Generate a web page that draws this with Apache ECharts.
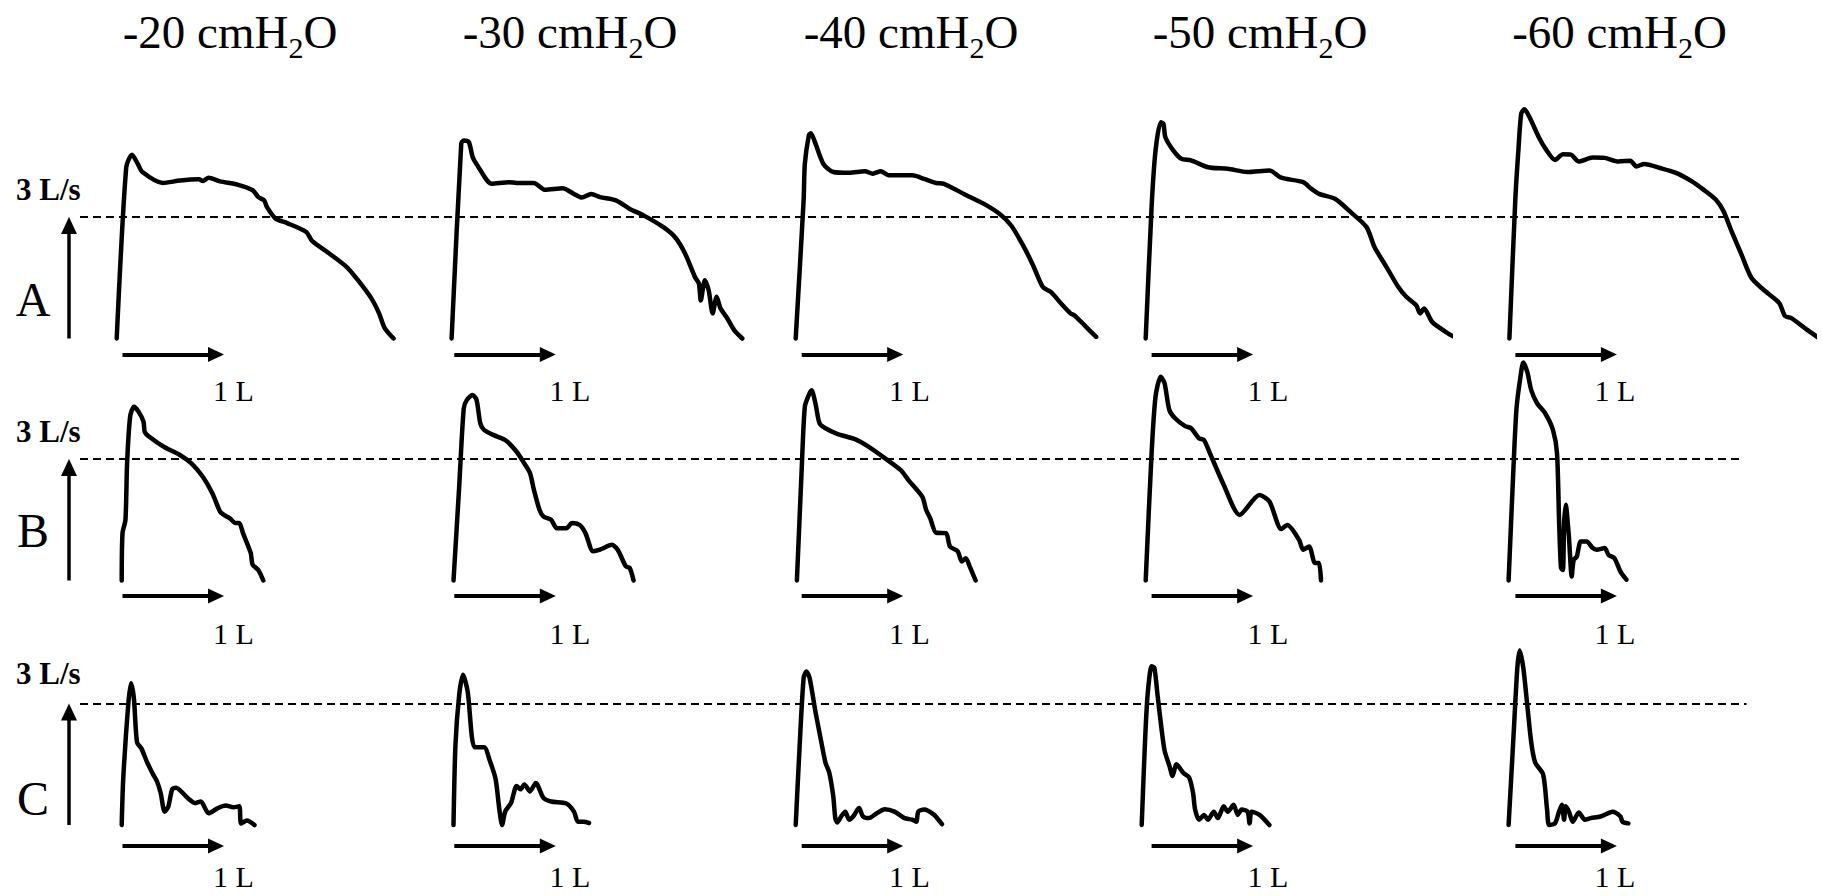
<!DOCTYPE html>
<html>
<head>
<meta charset="utf-8">
<script src="https://cdn.jsdelivr.net/npm/echarts@6/dist/echarts.min.js"></script>
<style>
html,body{margin:0;padding:0;background:#ffffff;}
#chart{width:1822px;height:896px;}
</style>
</head>
<body>
<div id="chart"></div>
<script>
// ---------- labels ----------
const pressures = ['-20', '-30', '-40', '-50', '-60'];
const rowNames = ['A', 'B', 'C'];
const flowScaleLabel = '3 L/s';
const volumeScaleLabel = '1 L';
const flowScaleValue = 3;   // L/s, dashed reference & vertical scale bar
const volumeScaleValue = 1; // L, horizontal scale bar

// ---------- data: [volume (L), flow (L/s)] ----------
const curveA20 = [[0,0],[0.094,4.23],[0.151,4.54],[0.208,4.31],[0.253,4.11],[0.453,3.84],[0.623,3.90],[0.811,3.93],[0.849,3.89],[0.906,3.97],[1.019,3.88],[1.189,3.80],[1.34,3.66],[1.396,3.49],[1.453,3.41],[1.479,3.25],[1.566,2.96],[1.679,2.85],[1.868,2.63],[1.925,2.41],[2.094,2.10],[2.264,1.77],[2.377,1.44],[2.509,0.99],[2.585,0.62],[2.642,0.25],[2.728,0.0]];
const curveA30 = [[0,0],[0.095,4.81],[0.12,4.89],[0.17,4.85],[0.207,4.48],[0.245,4.31],[0.396,3.82],[0.566,3.86],[0.64,3.84],[0.81,3.84],[0.923,3.67],[1.094,3.71],[1.206,3.57],[1.282,3.48],[1.376,3.57],[1.462,3.49],[1.618,3.41],[1.755,3.20],[1.891,3.04],[2.086,2.75],[2.202,2.50],[2.3,2.10],[2.397,1.52],[2.436,1.36],[2.455,0.94],[2.495,1.44],[2.533,1.19],[2.572,0.62],[2.611,1.03],[2.65,0.74],[2.708,0.53],[2.786,0.2],[2.864,0]];
const curveA40 = [[0,0],[0.078,3.41],[0.09,4.31],[0.129,5.01],[0.149,5.07],[0.195,4.81],[0.273,4.31],[0.371,4.11],[0.526,4.09],[0.682,4.13],[0.76,4.07],[0.837,4.13],[0.915,4.03],[1.15,4.03],[1.266,3.94],[1.383,3.84],[1.461,3.82],[1.656,3.57],[1.85,3.33],[2.007,3.08],[2.123,2.79],[2.24,2.30],[2.338,1.81],[2.435,1.27],[2.513,1.15],[2.63,0.82],[2.707,0.62],[2.747,0.57],[2.844,0.33],[2.96,0.04]];
const curveA50 = [[0,0],[0.058,3.24],[0.097,4.64],[0.148,5.34],[0.175,5.30],[0.194,4.97],[0.273,4.64],[0.351,4.44],[0.447,4.40],[0.613,4.23],[0.809,4.19],[1.004,4.11],[1.219,4.15],[1.336,3.97],[1.551,3.86],[1.63,3.70],[1.708,3.57],[1.864,3.45],[2.02,3.12],[2.176,2.75],[2.254,2.26],[2.371,1.77],[2.489,1.27],[2.567,1.03],[2.665,0.82],[2.704,0.62],[2.743,0.74],[2.822,0.41],[2.958,0.16],[3.067,0]];
const curveA60 = [[0,0],[0.059,3.47],[0.09,4.70],[0.117,5.56],[0.149,5.66],[0.195,5.48],[0.294,4.95],[0.352,4.70],[0.449,4.41],[0.528,4.55],[0.606,4.54],[0.684,4.37],[0.821,4.47],[0.938,4.46],[1.075,4.37],[1.192,4.39],[1.25,4.25],[1.329,4.31],[1.485,4.21],[1.641,4.09],[1.798,3.88],[1.915,3.67],[2.033,3.43],[2.11,3.14],[2.188,2.65],[2.287,2.07],[2.384,1.50],[2.501,1.21],[2.657,0.88],[2.716,0.55],[2.774,0.51],[2.931,0.22],[3.08,-0.05],[3.15,-0.2]];

const curveB20 = [[0,0],[0.008,1.17],[0.037,1.50],[0.053,2.89],[0.083,4.04],[0.12,4.29],[0.166,4.17],[0.215,3.92],[0.227,3.67],[0.272,3.55],[0.423,3.29],[0.573,3.10],[0.687,2.89],[0.799,2.56],[0.894,2.15],[0.969,1.70],[1.007,1.62],[1.063,1.54],[1.12,1.42],[1.158,1.42],[1.195,1.17],[1.271,0.68],[1.29,0.39],[1.346,0.26],[1.395,0]];
const curveB30 = [[0,0],[0.056,2.32],[0.101,4.25],[0.132,4.46],[0.188,4.58],[0.227,4.46],[0.264,3.88],[0.301,3.72],[0.396,3.59],[0.509,3.47],[0.622,3.18],[0.698,2.89],[0.754,2.65],[0.792,2.24],[0.848,1.74],[0.886,1.58],[0.962,1.50],[1.018,1.29],[1.112,1.29],[1.168,1.42],[1.244,1.37],[1.3,1.17],[1.376,0.72],[1.443,0.76],[1.56,0.88],[1.618,0.76],[1.697,0.35],[1.736,0.31],[1.774,0]];
const curveB40 = [[0,0],[0.047,2.73],[0.078,4.29],[0.117,4.58],[0.144,4.70],[0.183,4.37],[0.223,3.88],[0.281,3.76],[0.397,3.62],[0.572,3.49],[0.709,3.30],[0.845,3.06],[1.021,2.73],[1.099,2.48],[1.235,2.07],[1.274,1.74],[1.313,1.54],[1.371,1.18],[1.469,1.17],[1.508,0.84],[1.585,0.72],[1.624,0.47],[1.664,0.55],[1.702,0.35],[1.761,0]];
const curveB50 = [[0,0],[0.058,3.14],[0.097,4.54],[0.148,5.03],[0.186,4.87],[0.233,4.21],[0.292,4.00],[0.389,3.81],[0.447,3.76],[0.525,3.51],[0.574,3.47],[0.633,3.14],[0.769,2.36],[0.926,1.62],[1.121,2.11],[1.219,1.95],[1.336,1.27],[1.395,1.37],[1.512,1.00],[1.551,0.76],[1.61,0.84],[1.668,0.43],[1.707,0.43],[1.727,0]];
const curveB60 = [[0,0],[0.047,2.73],[0.078,4.25],[0.117,5.03],[0.145,5.38],[0.184,5.15],[0.223,4.70],[0.282,4.37],[0.36,4.13],[0.437,3.72],[0.477,3.14],[0.497,1.50],[0.516,0.31],[0.535,0.26],[0.547,1.42],[0.563,1.87],[0.594,1.08],[0.622,0.10],[0.641,0.51],[0.672,0.59],[0.711,0.96],[0.77,0.96],[0.829,0.80],[0.868,0.76],[0.946,0.80],[0.985,0.63],[1.043,0.55],[1.102,0.22],[1.161,0.02]];

const curveC20 = [[0,0],[0.015,1.13],[0.064,2.96],[0.091,3.50],[0.12,3.13],[0.151,2.04],[0.196,1.88],[0.252,1.54],[0.309,1.25],[0.347,1.08],[0.384,0.79],[0.423,0.33],[0.46,0.46],[0.497,0.88],[0.535,0.92],[0.648,0.67],[0.724,0.54],[0.78,0.58],[0.856,0.29],[0.95,0.42],[1.026,0.48],[1.1,0.44],[1.158,0.46],[1.176,0.04],[1.233,0.11],[1.308,0]];
const curveC30 = [[0,0],[0.019,1.96],[0.056,3.21],[0.094,3.71],[0.14,3.29],[0.208,1.92],[0.301,1.92],[0.359,1.58],[0.415,1.13],[0.452,0.38],[0.479,0.0],[0.509,0.33],[0.566,0.54],[0.622,0.96],[0.66,0.88],[0.698,1.00],[0.754,0.83],[0.811,1.04],[0.886,0.67],[0.962,0.58],[1.112,0.53],[1.187,0.33],[1.226,0.08],[1.282,0.08],[1.335,0.05]];
const curveC40 = [[0,0],[0.039,1.96],[0.078,3.63],[0.105,3.79],[0.137,3.63],[0.195,2.79],[0.253,2.04],[0.293,1.54],[0.331,1.29],[0.37,0.71],[0.39,0.17],[0.409,0.06],[0.448,0.21],[0.488,0.33],[0.526,0.13],[0.566,0.21],[0.624,0.42],[0.663,0.21],[0.721,0.17],[0.799,0.29],[0.877,0.39],[0.974,0.33],[1.072,0.17],[1.15,0.13],[1.188,0.08],[1.208,0.33],[1.266,0.38],[1.364,0.25],[1.422,0.08],[1.441,0.02]];
const curveC50 = [[0,0],[0.031,1.96],[0.058,3.21],[0.098,3.92],[0.125,3.88],[0.156,3.21],[0.195,2.38],[0.226,1.83],[0.273,1.46],[0.304,1.21],[0.343,1.50],[0.409,1.29],[0.468,1.17],[0.506,0.79],[0.526,0.38],[0.565,0.13],[0.614,0.25],[0.652,0.13],[0.711,0.33],[0.75,0.17],[0.809,0.46],[0.848,0.33],[0.906,0.50],[0.946,0.25],[0.985,0.38],[1.043,0.33],[1.063,0.04],[1.083,0.33],[1.161,0.25],[1.258,0]];
const curveC60 = [[0,0],[0.047,2.13],[0.086,3.88],[0.109,4.31],[0.145,3.88],[0.184,2.96],[0.223,2.04],[0.262,1.54],[0.34,1.25],[0.379,0.38],[0.399,0],[0.457,0.04],[0.497,0.33],[0.524,0.50],[0.547,0.13],[0.563,0.46],[0.594,0.33],[0.633,0.08],[0.692,0.31],[0.751,0.13],[0.809,0.17],[0.906,0.21],[1.025,0.33],[1.102,0.21],[1.122,0.08],[1.18,0.04]];

const curves = [
  [curveA20, curveA30, curveA40, curveA50, curveA60],
  [curveB20, curveB30, curveB40, curveB50, curveB60],
  [curveC20, curveC30, curveC40, curveC50, curveC60]
];

// ---------- layout (pixels) ----------
const W = 1822, H = 896;
const PX_PER_L = 101.5;        // horizontal scale
const PX_PER_LPS = 40.5;       // vertical scale
const Y_MIN = -1, Y_MAX = 6, X_MAX = 3.0;
const rowBaseline = [338.5, 580.5, 825];
const panelLeft = [
  [116.7, 451.6, 795.7, 1145.7, 1509.4],
  [121.7, 453.5, 796.9, 1145.7, 1508.6],
  [121.7, 453.5, 795.7, 1141.7, 1508.6]
];
const arrowLeft = [122.5, 454.3, 801.7, 1151.6, 1515.4];
const arrowOffset = [16, 15.5, 21];          // px below baseline
const upArrowX = 69, dashStartX = 80, dashEndX = [1741.5, 1741.5, 1746.5];
const titleX = [230, 570, 911, 1260, 1619.5], titleY = 34;
const volLabelX = [233.5, 570, 909.5, 1268, 1615];
const volLabelY = [390, 633, 876];
const rowLabelY = [299, 530, 798];
const flowLabelY = [189, 431, 673];
const SERIF = '"Liberation Serif", "Times New Roman", serif';
const HEAD_X = [15, 16], HEAD_Y = [16, 17];

const grids = [], xAxes = [], yAxes = [], series = [];

function addGrid(left, width, baseline) {
  const top = baseline - Y_MAX * PX_PER_LPS;
  const height = (Y_MAX - Y_MIN) * PX_PER_LPS;
  grids.push({ left: left, top: top, width: width, height: height, containLabel: false, outerBoundsMode: 'none' });
  const idx = grids.length - 1;
  xAxes.push({ gridIndex: idx, type: 'value', min: 0, max: width / PX_PER_L, show: false });
  yAxes.push({ gridIndex: idx, type: 'value', min: Y_MIN, max: Y_MAX, show: false });
  return idx;
}

for (let r = 0; r < 3; r++) {
  // row-wide grid for the dashed 3 L/s reference and the vertical scale bar
  const rowW = dashEndX[r] - upArrowX;
  const gi = addGrid(upArrowX, rowW, rowBaseline[r]);
  const headLenY = HEAD_Y[1] / 2 / PX_PER_LPS;
  series.push({
    type: 'line', xAxisIndex: gi, yAxisIndex: gi, data: [], silent: true,
    markLine: {
      silent: true, animation: false, label: { show: false },
      data: [
        [
          { coord: [0, 0], symbol: 'none', lineStyle: { color: '#000', width: 3.5, type: 'solid' } },
          { coord: [0, flowScaleValue - headLenY], symbol: 'triangle', symbolSize: HEAD_Y }
        ],
        [
          { coord: [(dashStartX - upArrowX) / PX_PER_L, flowScaleValue], symbol: 'none', lineStyle: { color: '#000', width: 1.8, type: [8, 5] } },
          { coord: [rowW / PX_PER_L, flowScaleValue], symbol: 'none' }
        ]
      ]
    }
  });
  for (let c = 0; c < 5; c++) {
    const pi = addGrid(panelLeft[r][c], X_MAX * PX_PER_L, rowBaseline[r]);
    const ax = (arrowLeft[c] - panelLeft[r][c]) / PX_PER_L;
    const ay = -arrowOffset[r] / PX_PER_LPS;
    const headLenX = HEAD_X[1] / 2 / PX_PER_L;
    series.push({
      type: 'line', name: pressures[c] + ' ' + rowNames[r],
      xAxisIndex: pi, yAxisIndex: pi,
      data: curves[r][c], showSymbol: false, symbol: 'none', smooth: 0.25, clip: false,
      lineStyle: { color: '#000', width: 4.5, join: 'round', cap: 'round' },
      silent: true,
      markLine: {
        silent: true, animation: false, label: { show: false },
        data: [[
          { coord: [ax, ay], symbol: 'none', lineStyle: { color: '#000', width: 4, type: 'solid' } },
          { coord: [ax + volumeScaleValue - headLenX, ay], symbol: 'triangle', symbolSize: HEAD_X }
        ]]
      }
    });
  }
}

// ---------- text ----------
const graphics = [];
pressures.forEach((p, c) => {
  graphics.push({
    type: 'text', x: titleX[c], y: titleY, z: 10,
    style: {
      text: '{a|' + p + ' cmH}{s|2}{a|O}',
      align: 'center', verticalAlign: 'middle',
      rich: {
        a: { fontFamily: SERIF, fontSize: 47, lineHeight: 52, verticalAlign: 'top', fill: '#000' },
        s: { fontFamily: SERIF, fontSize: 30, lineHeight: 30, padding: [24, 0, 0, 0], verticalAlign: 'top', fill: '#000' }
      }
    }
  });
});
rowNames.forEach((n, r) => {
  graphics.push({ type: 'text', x: 33, y: rowLabelY[r], z: 10,
    style: { text: n, fontFamily: SERIF, fontSize: 48, fill: '#000', align: 'center', verticalAlign: 'middle' } });
  graphics.push({ type: 'text', x: 16, y: flowLabelY[r], z: 10,
    style: { text: flowScaleLabel, fontFamily: SERIF, fontSize: 31, fontWeight: 'bold', fill: '#000', align: 'left', verticalAlign: 'middle' } });
  for (let c = 0; c < 5; c++) {
    graphics.push({ type: 'text', x: volLabelX[c], y: volLabelY[r], z: 10,
      style: { text: volumeScaleLabel, fontFamily: SERIF, fontSize: 30, fill: '#000', align: 'center', verticalAlign: 'middle' } });
  }
});

const chart = echarts.init(document.getElementById('chart'), null, { renderer: 'svg', width: W, height: H });
chart.setOption({
  animation: false,
  backgroundColor: '#ffffff',
  grid: grids, xAxis: xAxes, yAxis: yAxes, series: series,
  graphic: graphics
});
</script>
</body>
</html>
